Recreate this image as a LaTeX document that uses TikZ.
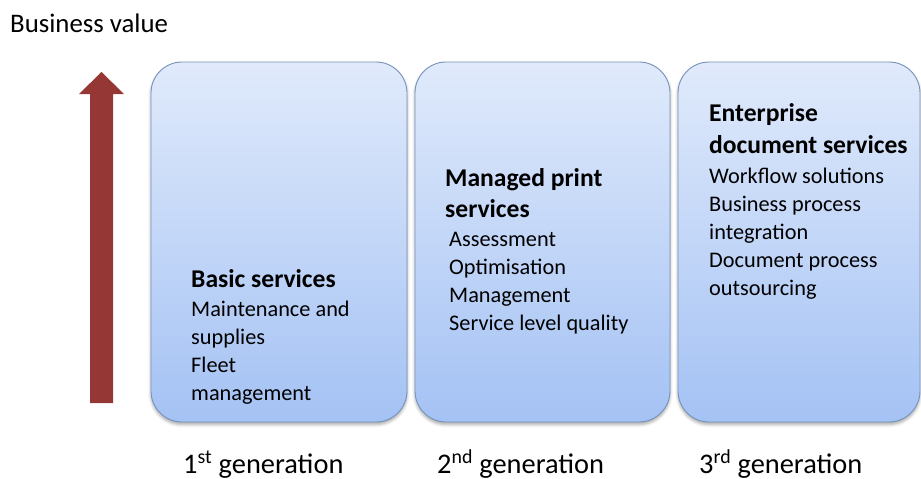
\documentclass[tikz,border=0pt]{standalone}
\usepackage{fontspec}
\setmainfont{Carlito}
\usetikzlibrary{shadows.blur}
\definecolor{arrowred}{RGB}{149,55,53}
\definecolor{boxtop}{RGB}{224,234,251}
\definecolor{boxbottom}{RGB}{164,194,244}
\definecolor{boxedge}{RGB}{118,146,186}
\tikzset{
  genbox/.style={draw=boxedge, line width=0.9pt, rounded corners=31pt,
    top color=boxtop, bottom color=boxbottom,
    blur shadow={shadow xshift=0pt, shadow yshift=-2.5pt, shadow blur radius=3pt, shadow opacity=35}},
  head/.style={anchor=base west, inner sep=0pt, font=\fontsize{25.6}{30}\selectfont\bfseries},
  body/.style={anchor=base west, inner sep=0pt, font=\fontsize{22.3}{27}\selectfont},
  gen/.style={anchor=base west, inner sep=0pt, font=\fontsize{28.4}{33}\selectfont},
}
\begin{document}
\begin{tikzpicture}[x=1pt,y=-1pt]
\useasboundingbox (0,0) rectangle (921,479);

% axis label
\node[anchor=base west, inner sep=0pt, font=\fontsize{26.8}{31}\selectfont] (bv) at (10,32) {Business value};

% upward arrow
\fill[arrowred] (90,403) -- (90,94) -- (79,94) -- (101.5,72) -- (124,94) -- (113,94) -- (113,403) -- cycle;

% the three generation boxes
\begin{scope}
\clip (0,0) rectangle (921,479);
\path[genbox] (151,62) rectangle (407,422);
\path[genbox] (415,62) rectangle (670,422);
\path[genbox] (678,62) rectangle (920,422);
\end{scope}

% first generation
\node[head] (g1h) at (191,287) {Basic services};
\node[body] (g1a) at (191,316) {Maintenance and};
\node[body] (g1b) at (191,344) {supplies};
\node[body] (g1c) at (191,372) {Fleet};
\node[body] (g1d) at (191,400) {management};

% second generation
\node[head] (g2h) at (445,186) {Managed print};
\node[head] (g2i) at (445,217) {services};
\node[body] (g2a) at (449,246) {Assessment};
\node[body] (g2b) at (449,274) {Optimisation};
\node[body] (g2c) at (449,302) {Management};
\node[body] (g2d) at (449,330) {Service level quality};

% third generation
\node[head] (g3h) at (709,121) {Enterprise};
\node[head] (g3i) at (709,153) {document services};
\node[body] (g3a) at (709,183) {Workflow solutions};
\node[body] (g3b) at (709,211) {Business process};
\node[body] (g3c) at (709,239) {integration};
\node[body] (g3d) at (709,267) {Document process};
\node[body] (g3e) at (709,295) {outsourcing};

% generation captions
\node[gen] (c1) at (183,473) {1\textsuperscript{st} generation};
\node[gen] (c2) at (437,473) {2\textsuperscript{nd} generation};
\node[gen] (c3) at (699,473) {3\textsuperscript{rd} generation};
\end{tikzpicture}
\end{document}
